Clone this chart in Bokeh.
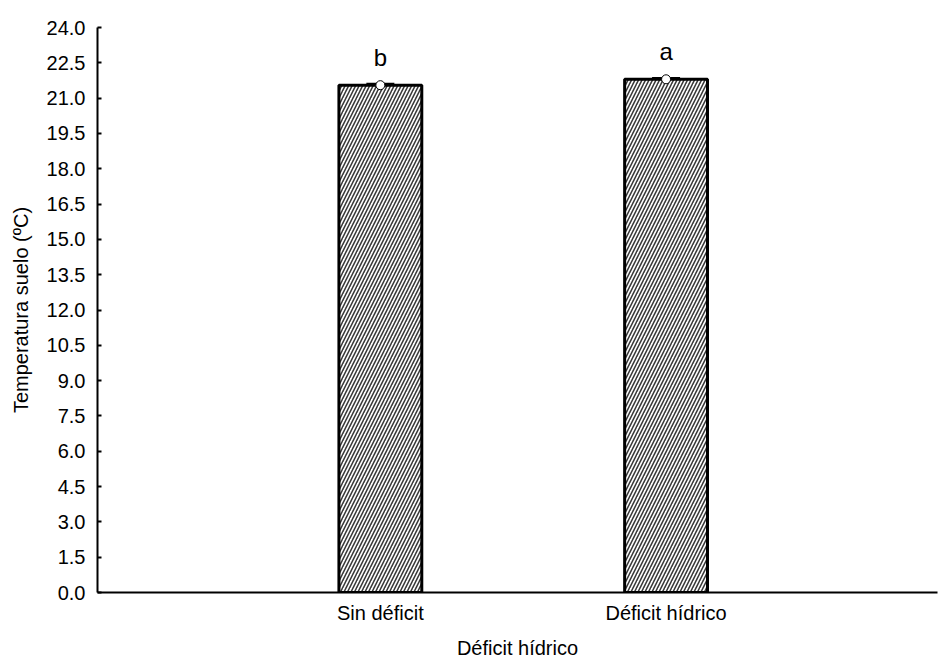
from bokeh.plotting import figure
from bokeh.models import ColumnDataSource, FixedTicker, Range1d, Whisker, PrintfTickFormatter
from bokeh.embed import file_html
from bokeh.resources import INLINE

categories = ["Sin déficit", "Déficit hídrico"]
x_pos = [1, 2]
means = [21.55, 21.8]
errors = [0.06, 0.06]
letters = ["b", "a"]
y_ticks = [0.0, 1.5, 3.0, 4.5, 6.0, 7.5, 9.0, 10.5, 12.0, 13.5, 15.0, 16.5, 18.0, 19.5, 21.0, 22.5, 24.0]

FONT = "Liberation Sans"

src = ColumnDataSource(dict(
    x=x_pos, top=means,
    upper=[m + e for m, e in zip(means, errors)],
    lower=[m - e for m, e in zip(means, errors)],
    lab=letters,
    ly=[m + 0.6 for m in means],
))

p = figure(frame_width=840, frame_height=565, output_backend="svg", toolbar_location=None,
           x_range=Range1d(0.01, 2.95), y_range=Range1d(0, 24),
           min_border_left=97, min_border_top=27, min_border_right=1, min_border_bottom=66)
p.outline_line_color = None
p.grid.grid_line_color = None

p.vbar(x="x", top="top", width=0.29, source=src, fill_color="white",
       line_color="black", line_width=3,
       hatch_pattern="right_diagonal_line", hatch_scale=7, hatch_weight=1.6, hatch_color="#3a3a3a")

w = Whisker(base="x", upper="upper", lower="lower", source=src, dimension="height",
            line_color="black", line_width=2)
w.upper_head.size = 28
w.lower_head.size = 28
w.upper_head.line_width = 2
w.lower_head.line_width = 2
p.add_layout(w)

p.scatter(x="x", y="top", source=src, size=9, fill_color="white", line_color="black", line_width=1)

p.text(x="x", y="ly", text="lab", source=src, text_align="center", text_baseline="bottom",
       text_font_size="24px", text_font={"value": FONT}, text_color="black")

p.xaxis.ticker = FixedTicker(ticks=x_pos)
p.xaxis.major_label_overrides = {x: c for x, c in zip(x_pos, categories)}
p.xaxis.major_tick_line_color = None
p.xaxis.major_tick_out = 0
p.xaxis.major_tick_in = 0
p.xaxis.minor_tick_line_color = None
p.xaxis.minor_tick_out = 0
p.xaxis.axis_line_width = 2
p.xaxis.major_label_standoff = 9
p.xaxis.axis_label = "Déficit hídrico"
p.xaxis.axis_label_standoff = 10

p.yaxis.ticker = FixedTicker(ticks=y_ticks)
p.yaxis.formatter = PrintfTickFormatter(format="%.1f")
p.yaxis.minor_tick_line_color = None
p.yaxis.axis_line_width = 2
p.yaxis.major_tick_line_width = 2
p.yaxis.major_tick_out = 0
p.yaxis.major_tick_in = 4
p.yaxis.major_label_standoff = 12
p.yaxis.axis_label = "Temperatura suelo (ºC)"
p.yaxis.axis_label_standoff = 12

for ax in (p.xaxis, p.yaxis):
    ax.major_label_text_font = FONT
    ax.major_label_text_font_size = "20px"
    ax.major_label_text_color = "black"
    ax.axis_label_text_font = FONT
    ax.axis_label_text_font_size = "20px"
    ax.axis_label_text_font_style = "normal"
    ax.axis_label_text_color = "black"
    ax.axis_line_color = "black"

open("out.html", "w").write(file_html(p, INLINE))
